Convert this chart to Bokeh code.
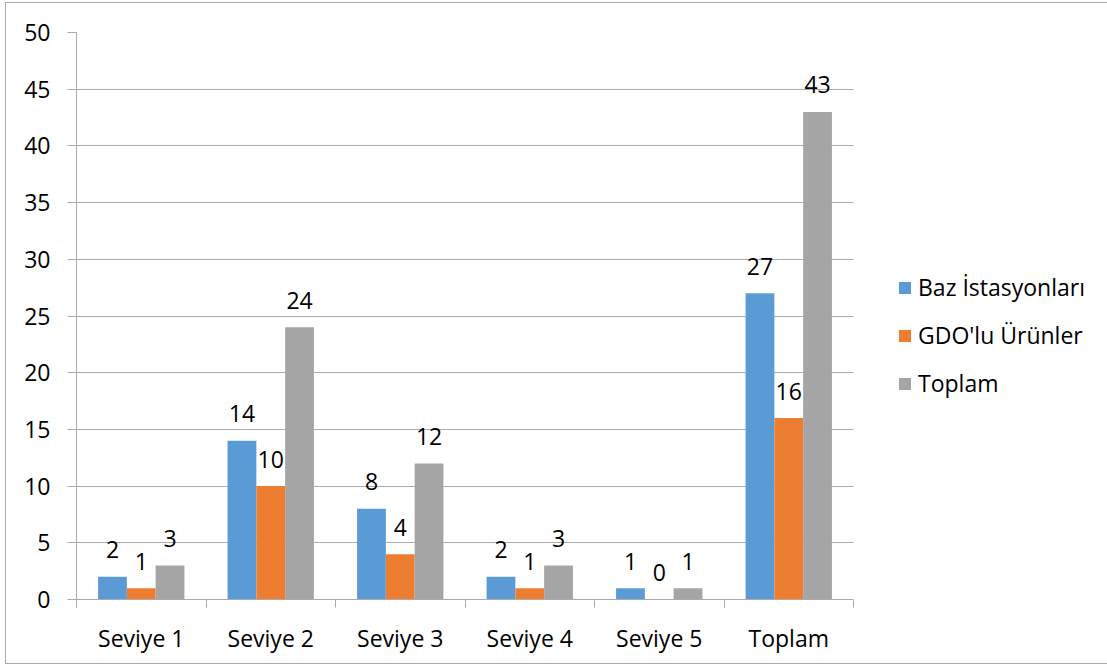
from bokeh.plotting import figure
from bokeh.models import (Range1d, FixedTicker, ColumnDataSource, Legend,
                          LegendItem, InlineStyleSheet)
from bokeh.embed import file_html
from bokeh.resources import INLINE
from bokeh.core.properties import value

# --- data ---------------------------------------------------------------
categories = ["Seviye 1", "Seviye 2", "Seviye 3", "Seviye 4", "Seviye 5", "Toplam"]
series_names = ["Baz İstasyonları", "GDO'lu Ürünler", "Toplam"]
baz_istasyonlari = [2, 14, 8, 2, 1, 27]
gdo_urunler = [1, 10, 4, 1, 0, 16]
toplam = [3, 24, 12, 3, 1, 43]
y_tick_values = [0, 5, 10, 15, 20, 25, 30, 35, 40, 45, 50]

series_values = [baz_istasyonlari, gdo_urunler, toplam]
colors = ["#5B9BD5", "#ED7D31", "#A5A5A5"]

FONT = "Open Sans"
FONT_SIZE = "23px"
LINE_GRAY = "#ababab"

W, H = 1107, 666
LEFT, TOP, BOTTOM = 76, 32, 599
PLOT_RIGHT = 853           # right end of the bar area
n_cat = len(categories)
bar_w = 1.0 / 4.5          # three bars, gap of one and a half bar widths

# the frame runs to the right edge so the legend can sit beside the bars;
# the axis and grid are bounded to the category span
px_per_cat = (PLOT_RIGHT - LEFT) / n_cat
x_max = (W - LEFT) / px_per_cat

p = figure(width=W, height=H,
           x_range=Range1d(0, x_max), y_range=Range1d(0, 50),
           output_backend="svg", toolbar_location=None,
           min_border_left=LEFT, min_border_right=0,
           min_border_top=TOP, min_border_bottom=H - BOTTOM)
p.outline_line_color = None
p.background_fill_color = "white"
p.border_fill_color = "white"

# thin frame around the whole chart area
p.stylesheets = [InlineStyleSheet(css="""
:host { position: relative; }
:host::after {
  content: ""; position: absolute; pointer-events: none;
  left: 5px; top: 2px; width: 1120px; height: 662px;
  border: 1.5px solid #ababab; box-sizing: border-box;
}
""")]

# --- bars and value labels -------------------------------------------------
legend_items = []
for k, (name, vals, col) in enumerate(zip(series_names, series_values, colors)):
    xs = [i + 0.5 + (k - 1) * bar_w for i in range(n_cat)]
    src = ColumnDataSource(dict(x=xs, top=vals, label=[str(v) for v in vals]))
    r = p.vbar(x="x", top="top", bottom=0, width=bar_w, source=src,
               fill_color=col, line_color=None)
    p.text(x="x", y="top", text="label", source=src,
           text_align="center", text_baseline="alphabetic", y_offset=-27,
           text_font=value(FONT), text_font_size=FONT_SIZE, text_color="black")
    legend_items.append(LegendItem(label=name, renderers=[r]))

# --- axes ---------------------------------------------------------------
centers = [i + 0.5 for i in range(n_cat)]
p.xaxis.bounds = (0, n_cat)
p.xaxis.ticker = FixedTicker(ticks=centers, minor_ticks=list(range(n_cat + 1)))
p.xaxis.major_label_overrides = {c: lab for c, lab in zip(centers, categories)}
p.xaxis.major_tick_line_color = None
p.xaxis.major_tick_out = 0
p.xaxis.major_tick_in = 0
p.xaxis.minor_tick_out = 8
p.xaxis.minor_tick_in = 0
p.xaxis.minor_tick_line_color = LINE_GRAY
p.xaxis.axis_line_color = LINE_GRAY
p.xaxis.major_label_standoff = 14

p.yaxis.ticker = FixedTicker(ticks=y_tick_values)
p.yaxis.major_tick_out = 9
p.yaxis.major_tick_in = 0
p.yaxis.major_tick_line_color = LINE_GRAY
p.yaxis.minor_tick_line_color = None
p.yaxis.axis_line_color = LINE_GRAY
p.yaxis.major_label_standoff = 17

for ax in (p.xaxis, p.yaxis):
    ax.major_label_text_font = FONT
    ax.major_label_text_font_size = FONT_SIZE
    ax.major_label_text_color = "black"

p.xgrid.grid_line_color = None
p.ygrid.grid_line_color = LINE_GRAY
p.ygrid.cross_bounds = (0, n_cat)

# --- legend -------------------------------------------------------------
legend = Legend(items=legend_items, location=(897 - LEFT, 200),
                orientation="vertical",
                glyph_width=15, glyph_height=15, label_height=30,
                label_standoff=6, spacing=16, padding=0, margin=0,
                border_line_color=None, background_fill_alpha=0,
                label_text_font=FONT, label_text_font_size=FONT_SIZE,
                label_text_color="black")
p.add_layout(legend, "center")

open("out.html", "w").write(file_html(p, INLINE))
